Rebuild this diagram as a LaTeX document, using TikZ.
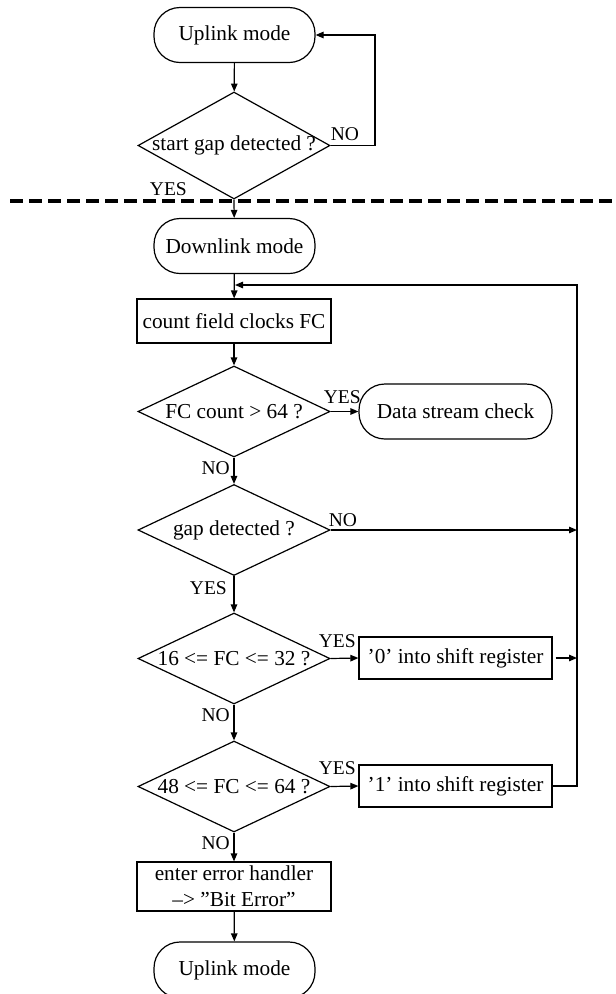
\documentclass[tikz,border=0pt]{standalone}
\usepackage{fontspec}
\setmainfont{Liberation Serif}
\usetikzlibrary{shapes.geometric,arrows.meta,calc}
\begin{document}
\begin{tikzpicture}[x=1pt,y=-1pt,
  every node/.style={font=\fontsize{21.3}{26}\selectfont},
  line/.style={line width=1.2pt},
  arr/.style={line width=1.2pt,-{Triangle[length=8pt,width=6.5pt]}},
  term/.style={draw,line width=1.2pt,rectangle,rounded corners=26pt,minimum width=161pt,minimum height=55pt,inner sep=0pt},
  proc/.style={draw,line width=1.2pt,rectangle,minimum width=194pt,minimum height=44pt,inner sep=0pt,align=center},
  dec/.style={draw,line width=1.2pt,diamond,minimum width=192pt,minimum height=91pt,inner sep=0pt},
  lbl/.style={inner sep=0pt,font=\fontsize{19.5}{22}\selectfont},
  sep/.style={line width=3.5pt,dash pattern=on 13pt off 6pt}
]
\useasboundingbox (0,0) rectangle (616,994);

% nodes
\node[term] (up1) at (234.5,35) {Uplink mode};
\node[dec, minimum height=107pt] (d1) at (234,145.5) {\makebox[0pt]{start gap detected ?}};
\node[term] (down) at (234.5,246) {Downlink mode};
\node[proc] (count) at (234,321) {count field clocks FC};
\node[dec] (d2) at (234,411.5) {\makebox[0pt]{FC count > 64 ?}};
\node[term, minimum width=193pt] (dsc) at (455.5,411.5) {Data stream check};
\node[dec] (d3) at (234,530) {\makebox[0pt]{gap detected ?}};
\node[dec] (d4) at (234,658.5) {\makebox[0pt]{16 <= FC <= 32 ?}};
\node[proc, minimum width=193pt, minimum height=42pt] (b0) at (455.5,658) {’0’ into shift register};
\node[dec] (d5) at (234,786.5) {\makebox[0pt]{48 <= FC <= 64 ?}};
\node[proc, minimum width=193pt, minimum height=42pt] (b1) at (455.5,786) {’1’ into shift register};
\node[proc, minimum height=49pt] (err) at (234,886.5) {enter error handler\\–> ”Bit Error”};
\node[term, minimum height=56pt] (up2) at (234.5,970) {Uplink mode};

% helper coordinates
\coordinate (r1) at (375,35);
\coordinate (dl) at (10,201);
\coordinate (dr) at (625,201);
\coordinate (rb) at (577,786);
\coordinate (rt) at (577,285);
\coordinate (lj) at (235,285);
\coordinate (r3) at (577,530);
\coordinate (r4) at (577,658);

% separator
\draw[sep] (dl) -- (dr);

% connectors
\draw[arr] (up1) -- (d1);
\draw[arr] (d1.east) -| (r1) -- (up1.east);
\draw[arr] (d1.south) -- (down);
\draw[arr] (down) -- (count);
\draw[arr] (count) -- (d2.north);
\draw[arr] (d2.east) -- (dsc.west);
\draw[arr] (d2.south) -- (d3.north);
\draw[arr] (d3.east) -- (r3);
\draw[arr] (d3.south) -- (d4.north);
\draw[arr] (d4.east) -- (b0.west);
\draw[arr, shorten <=3pt] (b0.east) -- (r4);
\draw[arr] (d4.south) -- (d5.north);
\draw[arr] (d5.east) -- (b1.west);
\draw[arr] (b1.east) -- (rb) -- (rt) -- (lj);
\draw[arr] (d5.south) -- (err);
\draw[arr] (err) -- (up2);

% labels
\node[lbl, anchor=south west] (l1) at ([yshift=5pt]d1.east) {NO};
\node[lbl, anchor=south east] (l2) at ([xshift=-47pt,yshift=4pt]d1.south) {YES};
\node[lbl, anchor=south west] (l3) at ([xshift=-7pt,yshift=8pt]d2.east) {YES};
\node[lbl, anchor=east] (l4) at ([xshift=-4pt,yshift=-11pt]d2.south) {NO};
\node[lbl, anchor=south west] (l5) at ([xshift=-2pt,yshift=3pt]d3.east) {NO};
\node[lbl, anchor=east] (l6) at ([xshift=-7pt,yshift=-12.5pt]d3.south) {YES};
\node[lbl, anchor=south west] (l7) at ([xshift=-12pt,yshift=11pt]d4.east) {YES};
\node[lbl, anchor=east] (l8) at ([xshift=-4pt,yshift=-11pt]d4.south) {NO};
\node[lbl, anchor=south west] (l9) at ([xshift=-12pt,yshift=12pt]d5.east) {YES};
\node[lbl, anchor=east] (l10) at ([xshift=-4pt,yshift=-11pt]d5.south) {NO};
\end{tikzpicture}
\end{document}
